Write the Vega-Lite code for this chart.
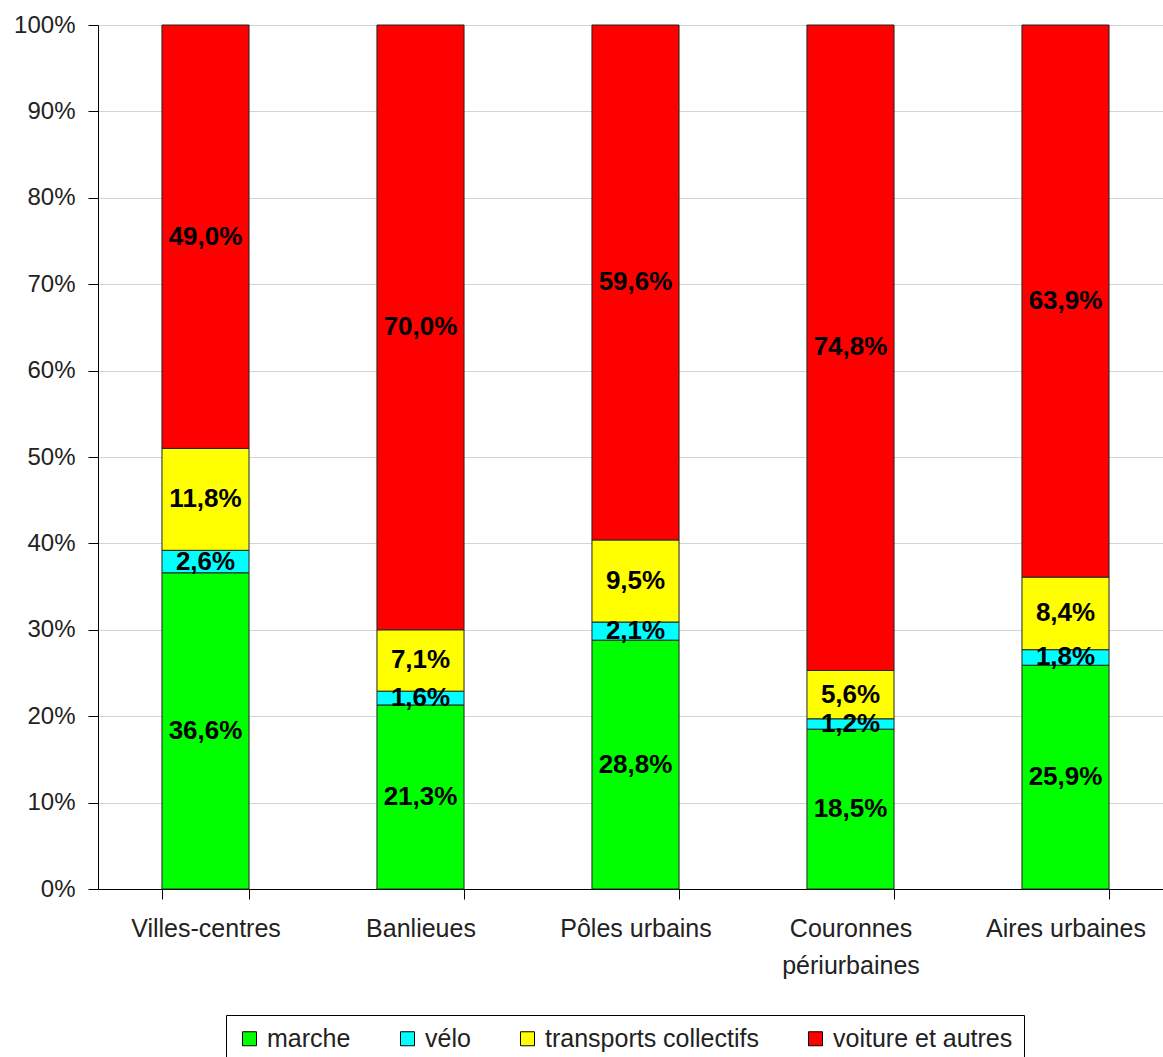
{
  "$schema": "https://vega.github.io/schema/vega-lite/v6.json",
  "width": 1075,
  "height": 864,
  "autosize": {"type": "none"},
  "padding": {"left": 98, "top": 25, "right": 0, "bottom": 168},
  "config": {
    "locale": {"number": {"decimal": ",", "thousands": " ", "grouping": [3], "currency": ["", " €"]}},
    "view": {"stroke": null},
    "font": "Liberation Sans"
  },
  "data": {
    "values": [
      {"cat": "Villes-centres", "mode": "marche", "o": 1, "v": 0.366},
      {"cat": "Villes-centres", "mode": "vélo", "o": 2, "v": 0.026},
      {"cat": "Villes-centres", "mode": "transports collectifs", "o": 3, "v": 0.118},
      {"cat": "Villes-centres", "mode": "voiture et autres", "o": 4, "v": 0.490},
      {"cat": "Banlieues", "mode": "marche", "o": 1, "v": 0.213},
      {"cat": "Banlieues", "mode": "vélo", "o": 2, "v": 0.016},
      {"cat": "Banlieues", "mode": "transports collectifs", "o": 3, "v": 0.071},
      {"cat": "Banlieues", "mode": "voiture et autres", "o": 4, "v": 0.700},
      {"cat": "Pôles urbains", "mode": "marche", "o": 1, "v": 0.288},
      {"cat": "Pôles urbains", "mode": "vélo", "o": 2, "v": 0.021},
      {"cat": "Pôles urbains", "mode": "transports collectifs", "o": 3, "v": 0.095},
      {"cat": "Pôles urbains", "mode": "voiture et autres", "o": 4, "v": 0.596},
      {"cat": "Couronnes périurbaines", "mode": "marche", "o": 1, "v": 0.185},
      {"cat": "Couronnes périurbaines", "mode": "vélo", "o": 2, "v": 0.012},
      {"cat": "Couronnes périurbaines", "mode": "transports collectifs", "o": 3, "v": 0.056},
      {"cat": "Couronnes périurbaines", "mode": "voiture et autres", "o": 4, "v": 0.748},
      {"cat": "Aires urbaines", "mode": "marche", "o": 1, "v": 0.259},
      {"cat": "Aires urbaines", "mode": "vélo", "o": 2, "v": 0.018},
      {"cat": "Aires urbaines", "mode": "transports collectifs", "o": 3, "v": 0.084},
      {"cat": "Aires urbaines", "mode": "voiture et autres", "o": 4, "v": 0.639}
    ]
  },
  "transform": [
    {"stack": "v", "groupby": ["cat"], "sort": [{"field": "o", "order": "ascending"}], "as": ["y0", "y1"]},
    {"calculate": "(datum.y0 + datum.y1) / 2", "as": "ym"}
  ],
  "encoding": {
    "x": {
      "field": "cat",
      "type": "nominal",
      "sort": null,
      "scale": {"paddingInner": 0.595, "paddingOuter": 0.2975},
      "axis": {
        "title": null,
        "labelAngle": 0,
        "domainColor": "black",
        "tickColor": "black",
        "tickBand": "extent",
        "tickSize": 10,
        "labelFontSize": 25,
        "labelColor": "#222",
        "labelPadding": 17,
        "labelLineHeight": 37,
        "labelBaseline": "top",
        "labelExpr": "datum.value == 'Couronnes périurbaines' ? ['Couronnes', 'périurbaines'] : datum.value"
      }
    }
  },
  "layer": [
    {
      "mark": {"type": "bar", "stroke": "#222", "strokeWidth": 1},
      "encoding": {
        "y": {
          "field": "y0",
          "type": "quantitative",
          "scale": {"domain": [0, 1], "clamp": true},
          "axis": {
            "title": null,
            "format": ".0%",
            "values": [0, 0.1, 0.2, 0.3, 0.4, 0.5, 0.6, 0.7, 0.8, 0.9, 1],
            "tickSize": 10,
            "labelFontSize": 24,
            "labelColor": "#222",
            "labelPadding": 13,
            "grid": true,
            "gridColor": "#d4d4d4",
            "domainColor": "black",
            "tickColor": "black"
          }
        },
        "y2": {"field": "y1"},
        "color": {
          "field": "mode",
          "type": "nominal",
          "scale": {
            "domain": ["marche", "vélo", "transports collectifs", "voiture et autres"],
            "range": ["#00ff00", "#00ffff", "#ffff00", "#ff0000"]
          },
          "legend": {
            "orient": "none",
            "legendX": 128,
            "legendY": 990,
            "direction": "horizontal",
            "title": null,
            "symbolType": "square",
            "symbolSize": 196,
            "symbolStrokeColor": "black",
            "symbolStrokeWidth": 1,
            "symbolOpacity": 1,
            "labelFontSize": 25,
            "labelLimit": 0,
            "labelColor": "#222",
            "labelOffset": 5,
            "columnPadding": 44,
            "strokeColor": "black",
            "fillColor": "white",
            "padding": 11
          }
        }
      }
    },
    {
      "mark": {"type": "text", "fontWeight": "bold", "fontSize": 26, "color": "black"},
      "encoding": {
        "y": {"field": "ym", "type": "quantitative"},
        "text": {"field": "v", "type": "quantitative", "format": ".1%"}
      }
    }
  ]
}
